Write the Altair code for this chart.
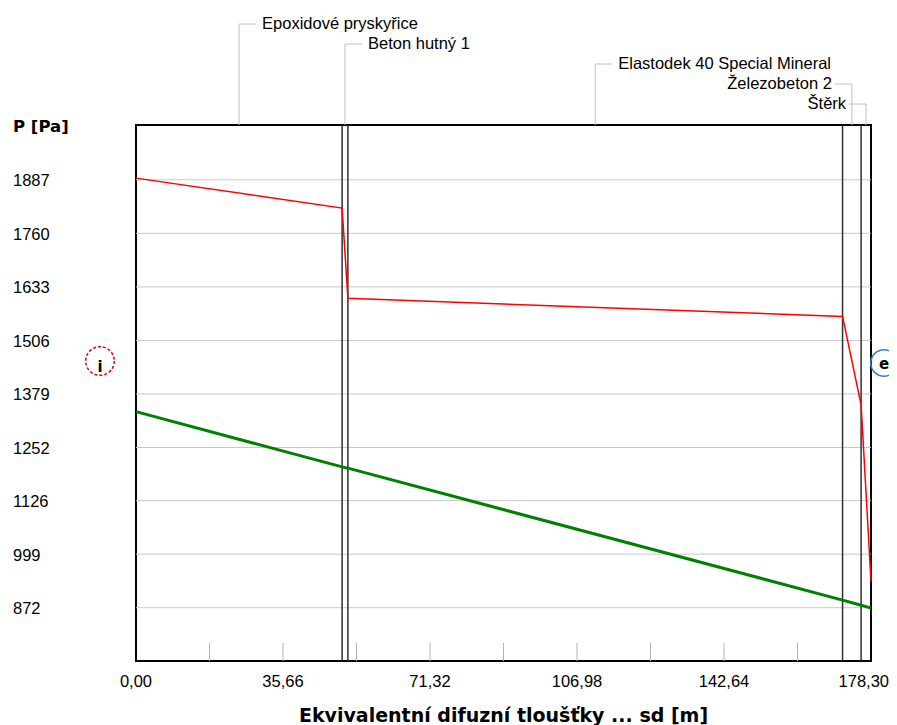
import altair as alt
import pandas as pd

# ---------------- data ----------------
layer_names = ["Epoxidové pryskyřice", "Beton hutný 1", "Elastodek 40 Special Mineral",
               "Železobeton 2", "Štěrk"]
layer_ends = [50.0, 51.4, 171.4, 175.9, 178.3]

sd_points = [0.0, 50.0, 51.4, 171.4, 175.9, 178.3]
p_sat = [1891, 1820, 1606, 1563, 1353, 935]      # red line
p_vap = [1337, 1206, 1203, 890, 878, 871]        # green line

y_ticks = [872, 999, 1126, 1252, 1379, 1506, 1633, 1760, 1887]
x_labels = [0.0, 35.66, 71.32, 106.98, 142.64, 178.30]
x_minor = [17.83, 35.66, 53.49, 71.32, 89.15, 106.98, 124.81, 142.64, 160.47]

x_title = "Ekvivalentní difuzní tloušťky ... sd [m]"
y_title = "P [Pa]"

X_DOMAIN = [0, 178.3]
Y_DOMAIN = [745.6, 2017]
W, H = 735, 536

layer_starts = [0.0] + layer_ends[:-1]
layers_df = pd.DataFrame({"name": layer_names, "start": layer_starts, "end": layer_ends})
layers_df["mid"] = (layers_df["start"] + layers_df["end"]) / 2
layers_df["level"] = list(range(len(layer_names)))

bounds_df = pd.DataFrame({"b": layer_ends[:-1]})
minor_df = pd.DataFrame({"t": x_minor})
ytick_df = pd.DataFrame({"v": y_ticks})
xlab_df = pd.DataFrame({"v": x_labels})
profile_df = pd.DataFrame({"sd": sd_points, "psat": p_sat, "pv": p_vap})

xs = alt.Scale(domain=X_DOMAIN, nice=False, zero=False)
ys = alt.Scale(domain=Y_DOMAIN, nice=False, zero=False)

REG = "Liberation Sans"
BOLD = "DejaVu Sans"


def X(field):
    return alt.X(field, type="quantitative", scale=xs, axis=None)


def Y(field):
    return alt.Y(field, type="quantitative", scale=ys, axis=None)


# grid lines and axis labels
grid = alt.Chart(ytick_df).mark_rule(color="#c8c8c8", strokeWidth=1).encode(y=Y("v"))
ylabels = alt.Chart(ytick_df).mark_text(align="left", baseline="middle", font=REG,
                                        fontSize=16.5, color="black", dy=1.5).encode(
    x=alt.value(-123), y=Y("v"), text="v:N")

xlab_base = alt.Chart(xlab_df).transform_calculate(
    lab="replace(format(datum.v, '.2f'), '.', ',')"
)
xlabels = xlab_base.transform_filter("datum.v < 178").mark_text(
    align="center", baseline="top", font=REG, fontSize=16.5, color="black"
).encode(x=X("v"), y=alt.value(H + 13), text="lab:N")
xlabel_last = xlab_base.transform_filter("datum.v >= 178").mark_text(
    align="right", baseline="top", font=REG, fontSize=16.5, color="black", dx=18
).encode(x=X("v"), y=alt.value(H + 13), text="lab:N")

title_df = pd.DataFrame({"t": [x_title]})
ytitle_df = pd.DataFrame({"t": [y_title]})
xtitle = alt.Chart(title_df).mark_text(align="center", baseline="middle", font=BOLD,
                                       fontSize=19, fontWeight="bold",
                                       color="black").encode(
    x=alt.value(W / 2), y=alt.value(H + 55), text="t:N")
ytitle = alt.Chart(ytitle_df).mark_text(align="left", baseline="middle", font=BOLD,
                                        fontSize=16.5, fontWeight="bold",
                                        color="black").encode(
    x=alt.value(-123), y=alt.value(2), text="t:N")

red = alt.Chart(profile_df).mark_line(color="#ff0000", strokeWidth=1.5).encode(
    x=X("sd"), y=Y("psat"))
green = alt.Chart(profile_df).mark_line(color="#008000", strokeWidth=3).encode(
    x=X("sd"), y=Y("pv"))

minor = alt.Chart(minor_df).mark_rule(color="#b4b4b4", strokeWidth=1).encode(
    x=X("t"), y=alt.value(H - 18), y2=alt.value(H))
bounds = alt.Chart(bounds_df).mark_rule(color="#303030", strokeWidth=1.5).encode(
    x=X("b"))

base_lab = alt.Chart(layers_df).transform_calculate(ly="-101 + 20 * datum.level")
LY = alt.Y("ly:Q", scale=None, axis=None)

lead_v = base_lab.mark_rule(color="#c0c0c0", strokeWidth=1).encode(
    x=X("mid"), y=LY, y2=alt.value(0))
right_side = base_lab.transform_filter("datum.mid < 160")
left_side = base_lab.transform_filter("datum.mid >= 160")

lead_hr = right_side.mark_rule(color="#c0c0c0", strokeWidth=1, x2Offset=17).encode(
    x=X("mid"), x2="mid:Q", y=LY, y2="ly:Q")
lead_hl = left_side.mark_rule(color="#c0c0c0", strokeWidth=1, x2Offset=-17).encode(
    x=X("mid"), x2="mid:Q", y=LY, y2="ly:Q")
text_r = right_side.mark_text(align="left", baseline="middle", dx=23,
                              font=REG, fontSize=16.5, color="black").encode(
    x=X("mid"), y=LY, text="name:N")
text_l = left_side.mark_text(align="right", baseline="middle", dx=-20,
                             font=REG, fontSize=16.5, color="black").encode(
    x=X("mid"), y=LY, text="name:N")

i_df = pd.DataFrame({"t": ["i"]})
e_df = pd.DataFrame({"t": ["e"]})
i_circle = alt.Chart(i_df).mark_point(shape="circle", size=820, filled=False,
                                      stroke="#e00000", strokeWidth=1.5,
                                      strokeDash=[3, 2], opacity=1).encode(
    x=alt.value(-36), y=alt.value(236))
i_text = alt.Chart(i_df).mark_text(font=BOLD, fontWeight="bold", fontSize=15,
                                   align="center", baseline="alphabetic",
                                   color="black").encode(
    x=alt.value(-36), y=alt.value(247), text="t:N")
e_circle = alt.Chart(e_df).mark_point(shape="circle", size=700, filled=False,
                                      stroke="#3c7fc8", strokeWidth=1.5,
                                      opacity=1).encode(
    x=alt.value(748), y=alt.value(238))
e_text = alt.Chart(e_df).mark_text(font=BOLD, fontWeight="bold", fontSize=15,
                                   align="center", baseline="alphabetic",
                                   color="black").encode(
    x=alt.value(748), y=alt.value(244), text="t:N")

chart = alt.layer(
    grid, minor, bounds, green, red,
    ylabels, xlabels, xlabel_last, xtitle, ytitle,
    lead_v, lead_hr, lead_hl, text_r, text_l,
    i_circle, i_text, e_circle, e_text,
).properties(
    width=W, height=H,
    autosize=alt.AutoSizeParams(type="none"),
    padding={"left": 128, "top": 117, "right": 18, "bottom": 64},
    background="white",
).configure_view(
    stroke="black", strokeWidth=2,
)

chart.save("out.html", embed_options={"renderer": "svg", "actions": False})
